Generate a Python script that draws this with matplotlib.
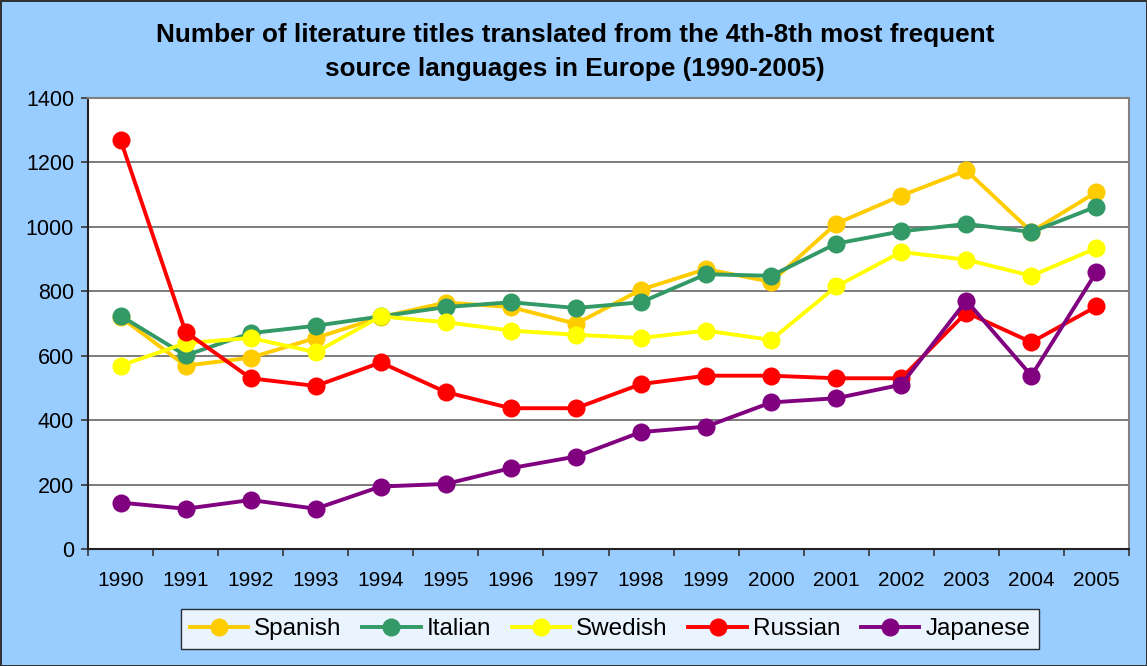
import matplotlib
matplotlib.use("Agg")
import matplotlib.pyplot as plt

years = [str(y) for y in range(1990, 2006)]

spanish = [720, 569, 594, 655, 720, 765, 751, 699, 805, 869, 829, 1010, 1097, 1175, 985, 1108]
italian = [724, 601, 670, 693, 722, 751, 766, 748, 766, 853, 848, 948, 986, 1009, 984, 1063]
swedish = [569, 639, 655, 611, 722, 704, 678, 665, 655, 678, 649, 815, 922, 898, 848, 934]
russian = [1270, 674, 530, 506, 579, 487, 437, 437, 512, 538, 538, 530, 530, 734, 642, 753]
japanese = [144, 125, 152, 125, 194, 202, 251, 287, 363, 380, 455, 468, 510, 771, 538, 860]

series = [
    ("Spanish", spanish, "#FFCC00"),
    ("Italian", italian, "#339966"),
    ("Swedish", swedish, "#FFFF00"),
    ("Russian", russian, "#FF0000"),
    ("Japanese", japanese, "#800080"),
]

plt.rcParams["font.family"] = ["Liberation Sans", "DejaVu Sans"]

fig = plt.figure(figsize=(11.47, 6.66), dpi=100)
fig.patch.set_facecolor("#99CCFF")
fig.patch.set_edgecolor("#333333")
fig.patch.set_linewidth(2)

# plot area in figure fractions (pixels measured on the reference)
W, H = 1147, 666
ax = fig.add_axes([88 / W, 1 - 549 / H, (1129 - 88) / W, (549 - 98) / H])
ax.set_facecolor("white")

x = list(range(len(years)))
for name, vals, col in series:
    ax.plot(x, vals, color=col, lw=2.8, marker="o", markersize=13,
            markeredgewidth=0, label=name)

ax.set_xlim(-0.5, len(years) - 0.5)
ax.set_ylim(0, 1400)
ax.set_yticks(range(0, 1401, 200))
ax.set_xticks(x)
ax.set_xticklabels(years)
ax.set_xticks([i - 0.5 for i in range(len(years) + 1)], minor=True)
ax.tick_params(axis="x", which="major", length=0, pad=16, labelsize=15)
ax.tick_params(axis="x", which="minor", length=5, width=1.2, color="#333333")
ax.tick_params(axis="y", length=5, width=1.2, color="#333333", labelsize=15.5, pad=5)
ax.grid(axis="y", color="#666666", lw=1.2)
ax.set_axisbelow(True)

for s in ["top", "right"]:
    ax.spines[s].set_color("#808080")
    ax.spines[s].set_linewidth(1.5)
for s in ["left", "bottom"]:
    ax.spines[s].set_color("#222222")
    ax.spines[s].set_linewidth(1.5)

fig.text(575 / W, 1 - 52 / H,
         "Number of literature titles translated from the 4th-8th most frequent\n"
         "source languages in Europe (1990-2005)",
         ha="center", va="center", fontsize=18.8, fontweight="bold", linespacing=1.5)

leg = fig.legend(loc="center", bbox_to_anchor=(610 / W, 1 - 629 / H), ncol=5,
                 frameon=True, fancybox=False, fontsize=17.5, handlelength=2.4,
                 handletextpad=0.25, columnspacing=0.85, borderpad=0.35,
                 markerscale=1.0)
leg.get_frame().set_edgecolor("black")
leg.get_frame().set_linewidth(1)
leg.get_frame().set_facecolor("white")

fig.savefig("out.png", dpi=100, facecolor=fig.get_facecolor(), edgecolor=fig.get_edgecolor())
